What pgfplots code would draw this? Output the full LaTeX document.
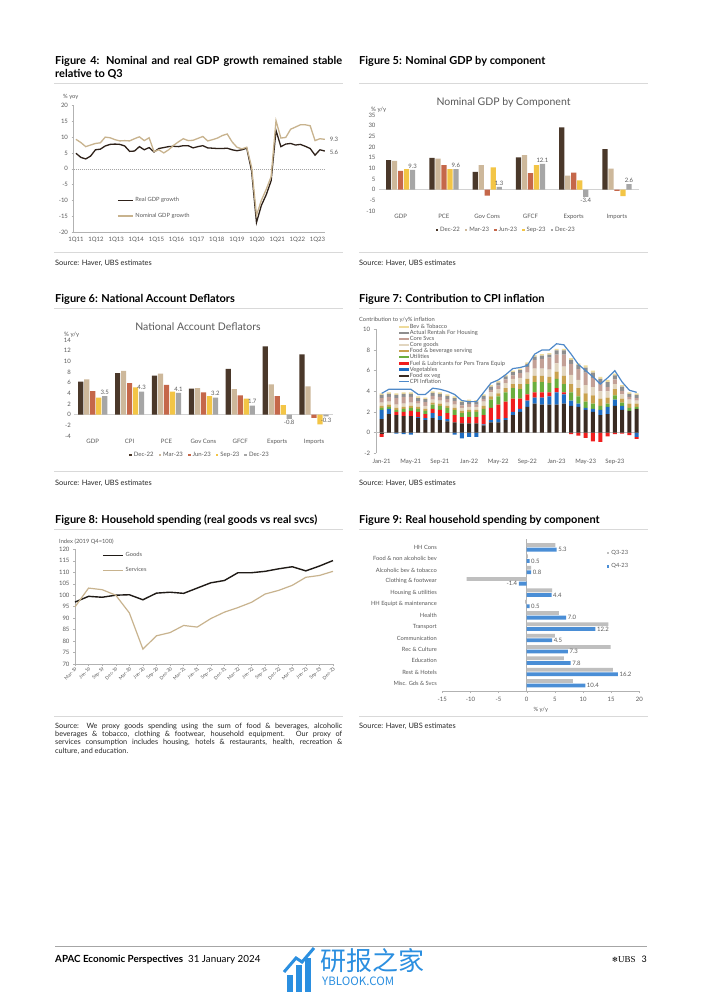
\documentclass[border=0pt]{standalone}
\usepackage{fontspec}
\setmainfont{Lato}
\newfontfamily\cjk{Noto Sans CJK SC}
\newfontfamily\lserif{Liberation Serif}
\newfontfamily\dejavu{DejaVu Sans}
\usepackage{pgfplots}
\usepackage{pgfplotstable}
\pgfplotsset{compat=1.18}

\definecolor{txt}{HTML}{595959}
\definecolor{rulec}{HTML}{D9D9D9}
\definecolor{realc}{HTML}{2E2119}
\definecolor{nomc}{HTML}{C8B38E}
\definecolor{cA}{HTML}{4A382A}
\definecolor{cB}{HTML}{CDB89B}
\definecolor{cC}{HTML}{C5674A}
\definecolor{cD}{HTML}{F3C546}
\definecolor{cE}{HTML}{A6A6A6}
\definecolor{kFood}{HTML}{3A2B22}
\definecolor{kVeg}{HTML}{1F6DC2}
\definecolor{kFuel}{HTML}{F01E1E}
\definecolor{kUtil}{HTML}{6BAE3E}
\definecolor{kServ}{HTML}{C9A24F}
\definecolor{kGoods}{HTML}{E2D6C0}
\definecolor{kSvcs}{HTML}{C3A096}
\definecolor{kRent}{HTML}{8E8E8E}
\definecolor{kBev}{HTML}{EEDB9C}
\definecolor{kCPI}{HTML}{4F89C9}
\definecolor{goodsc}{HTML}{1F1A16}
\definecolor{svcc}{HTML}{C8B38E}
\definecolor{q3c}{HTML}{BFBFBF}
\definecolor{q4c}{HTML}{4A8ED6}
\definecolor{wm}{HTML}{2B8FE0}

\newcommand\afont{\fontsize{6}{7}\selectfont}
\newcommand\lfont{\fontsize{5.75}{6.5}\selectfont}
\newcommand\tfont{\fontsize{11}{13}\selectfont\bfseries}
\newcommand\srcfont{\fontsize{7.4}{8.4}\selectfont}
\newcommand\ctfont{\fontsize{10.5}{12}\selectfont}

\pgfplotsset{
 base/.style={scale only axis, clip=false, anchor=south west,
   /pgf/number format/assume math mode=true,
   tick label style={font=\afont, text=txt},
   every axis label/.append style={font=\afont, text=txt},
   legend style={draw=none, fill=none, font=\afont, text=txt, inner sep=0pt},
   legend cell align=left,
   tick align=outside, major tick length=2pt,
   tick style={gray!60, line width=0.4pt},
   axis line style={gray!60, line width=0.4pt}},
 noaxis/.style={axis line style={draw=none}, major tick length=0pt},
 zeroline/.style={extra y ticks={0}, extra y tick labels={}, extra y tick style={grid=major, major grid style={#1}, major tick length=0pt}},
 fig7/.style={base, at={(375.7pt,-453.3pt)}, width=263.6pt, height=124pt, xmin=-0.82, xmax=35.36, ymin=-2, ymax=10},
 lbl/.style={nodes near coords={\pgfmathprintnumber[fixed,fixed zerofill,precision=1]{\pgfplotspointmeta}},
   every node near coord/.append style={font=\afont, text=txt, inner sep=1.5pt}},
 lineleg/.style={legend image code/.code={\draw[##1] (0pt,0pt) -- (10pt,0pt);}},
}

\pgfplotstableread{
m F V L U S G C R B
0 1.3 0.9 0 0.2 0.2 0.3 0.45 0.3 0.15
1 1.8 0.5 0 0.2 0.2 0.3 0.45 0.3 0.15
2 1.7 0 0.3 0.2 0.2 0.3 0.65 0.3 0.15
3 1.6 0 0.4 0.3 0.2 0.3 0.65 0.3 0.15
4 1.6 0 0.5 0.3 0.2 0.3 0.55 0.3 0.15
5 1.4 0.1 0.5 0.3 0.2 0.3 0.25 0.3 0.15
6 1.2 0.2 0.4 0.3 0.2 0.3 0.35 0.3 0.15
7 1.4 0.5 0.4 0.4 0.2 0.3 0.35 0.3 0.15
8 1.2 0.4 0.6 0.4 0.2 0.3 0.35 0.3 0.15
9 1.1 0.2 0.6 0.5 0.2 0.3 0.35 0.3 0.15
10 1.0 0 0.7 0.5 0.2 0.3 0.35 0.3 0.15
11 0.9 0 0.6 0.4 0.2 0.3 0.25 0.3 0.15
12 0.9 0 0.6 0.5 0.2 0.3 0.25 0.3 0.15
13 0.9 0 0.6 0.5 0.2 0.3 0.2 0.3 0.15
14 0.7 0.1 0.9 0.6 0.3 0.4 0.25 0.3 0.15
15 1.0 0.2 1.2 0.8 0.3 0.4 0.25 0.3 0.15
16 1.0 0.3 1.4 0.8 0.3 0.4 0.35 0.3 0.15
17 1.2 0.2 1.6 0.9 0.4 0.5 0.35 0.3 0.15
18 1.7 0.3 1.3 1.0 0.4 0.5 0.35 0.3 0.15
19 2.0 0.3 1.0 0.9 0.5 0.6 0.45 0.3 0.15
20 2.5 0.6 0.6 1.0 0.5 0.6 0.55 0.3 0.15
21 2.8 0.6 0.5 1.0 0.6 0.7 0.85 0.3 0.15
22 2.7 0.7 0.5 1.0 0.6 0.7 0.95 0.3 0.15
23 2.7 0.8 0.4 0.9 0.6 0.7 1.15 0.3 0.15
24 2.7 1.2 0.4 0.9 0.7 0.8 0.85 0.4 0.15
25 2.8 0.9 0.2 0.8 0.8 0.9 1.15 0.4 0.15
26 2.6 0.5 0 0.8 0.8 0.9 1.05 0.4 0.15
27 2.5 0.3 0 0.7 0.8 0.8 1.05 0.4 0.15
28 2.2 0.2 0 0.6 0.8 0.8 1.2 0.5 0.2
29 2.0 0.3 0 0.5 0.8 0.8 0.9 0.5 0.2
30 1.7 0.5 0 0.4 0.7 0.7 0.7 0.5 0.2
31 1.8 0.7 0 0.3 0.6 0.6 0.4 0.5 0.2
32 2.6 0.6 0 0.4 0.6 0.5 0.45 0.4 0.15
33 2.2 0.4 0 0.3 0.4 0.4 0.35 0.4 0.15
34 2.1 0 0 0.3 0.4 0.4 0.25 0.3 0.15
35 2.3 0 0 0.2 0.3 0.3 0.25 0.3 0.15
}\posdata

\pgfplotstableread{
m F V L
0 -0.1 0 -0.3
1 0 0 0
2 0 -0.1 0
3 0 -0.15 0
4 0 -0.2 0
5 0 0 0
6 0 0 0
7 0 0 0
8 0 0 0
9 0 0 0
10 0 -0.2 0
11 0 -0.55 0
12 0 -0.4 0
13 0 -0.4 0
14 0 0 0
15 0 0 0
16 0 0 0
17 0 0 0
18 0 0 0
19 0 0 0
20 0 0 0
21 0 0 0
22 0 0 0
23 0 0 0
24 0 0 0
25 0 0 0
26 0 0 -0.15
27 0 0 -0.3
28 0 0 -0.5
29 0 0 -0.85
30 0 0 -0.9
31 0 0 -0.35
32 0 0 -0.15
33 0 0 -0.1
34 0 0 -0.25
35 0 -0.4 -0.2
}\negdata

\pgfplotstableread{
m cpi
0 3.8
1 4.2
2 4.2
3 4.2
4 4.2
5 3.7
6 3.7
7 4.3
8 4.2
9 4.0
10 3.7
11 3.1
12 3.0
13 3.0
14 3.9
15 4.8
16 5.1
17 5.6
18 6.2
19 6.3
20 6.5
21 7.6
22 8.0
23 8.0
24 8.6
25 8.5
26 7.6
27 6.6
28 6.0
29 5.4
30 4.7
31 5.3
32 6.0
33 4.9
34 4.1
35 3.9
}\cpidata

\begin{document}
\begin{tikzpicture}
\fill[white] (0pt,0pt) rectangle (702pt,-992pt);

% ---------------- titles, rules, sources ----------------
\node[anchor=base west, inner sep=0pt, font=\tfont] at (55pt,-64.5pt) {\makebox[287pt][s]{Figure 4: Nominal and real GDP growth remained stable}};
\node[anchor=base west, inner sep=0pt, font=\tfont] at (55pt,-77.5pt) {relative to Q3};
\node[anchor=base west, inner sep=0pt, font=\tfont] at (359pt,-64.5pt) {Figure 5: Nominal GDP by component};
\node[anchor=base west, inner sep=0pt, font=\tfont] at (55pt,-302pt) {Figure 6: National Account Deflators};
\node[anchor=base west, inner sep=0pt, font=\tfont] at (359pt,-302pt) {Figure 7: Contribution to CPI inflation};
\node[anchor=base west, inner sep=0pt, font=\tfont] at (55pt,-523pt) {Figure 8: Household spending (real goods vs real svcs)};
\node[anchor=base west, inner sep=0pt, font=\tfont] at (359pt,-523pt) {Figure 9: Real household spending by component};

\foreach \yy in {83.5,252.5,308.3,471.7,529,716.5} {
  \draw[rulec, line width=0.7pt] (54pt,-\yy pt) -- (342.5pt,-\yy pt);
  \draw[rulec, line width=0.7pt] (359pt,-\yy pt) -- (648pt,-\yy pt);
}

\node[anchor=base west, inner sep=0pt, font=\srcfont, text=black!85] at (55pt,-265pt) {Source: Haver, UBS estimates};
\node[anchor=base west, inner sep=0pt, font=\srcfont, text=black!85] at (359pt,-265pt) {Source: Haver, UBS estimates};
\node[anchor=base west, inner sep=0pt, font=\srcfont, text=black!85] at (55pt,-485pt) {Source: Haver, UBS estimates};
\node[anchor=base west, inner sep=0pt, font=\srcfont, text=black!85] at (359pt,-485pt) {Source: Haver, UBS estimates};
\node[anchor=base west, inner sep=0pt, font=\fontsize{7.3}{8.4}\selectfont, text=black!85] at (55pt,-728pt) {\makebox[287pt][s]{Source: We proxy goods spending using the sum of food \& beverages, alcoholic}};
\node[anchor=base west, inner sep=0pt, font=\fontsize{7.3}{8.4}\selectfont, text=black!85] at (55pt,-736.4pt) {\makebox[287pt][s]{beverages \& tobacco, clothing \& footwear, household equipment. Our proxy of}};
\node[anchor=base west, inner sep=0pt, font=\fontsize{7.3}{8.4}\selectfont, text=black!85] at (55pt,-744.8pt) {\makebox[287pt][s]{services consumption includes housing, hotels \& restaurants, health, recreation \&}};
\node[anchor=base west, inner sep=0pt, font=\fontsize{7.3}{8.4}\selectfont, text=black!85] at (55pt,-753.2pt) {culture, and education.};
\node[anchor=base west, inner sep=0pt, font=\srcfont, text=black!85] at (359pt,-728pt) {Source: Haver, UBS estimates};

% small axis captions
\node[anchor=base west, inner sep=0pt, font=\lfont, text=txt] at (63pt,-99pt) {\% yoy};
\node[anchor=base west, inner sep=0pt, font=\afont, text=txt] at (371pt,-112pt) {\% y/y};
\node[anchor=base west, inner sep=0pt, font=\afont, text=txt] at (64pt,-336pt) {\% y/y};
\node[anchor=base west, inner sep=0pt, font=\lfont, text=txt] at (359pt,-321pt) {Contribution to y/y\% inflation};
\node[anchor=base west, inner sep=0pt, font=\lfont, text=txt] at (59pt,-543.5pt) {Index (2019 Q4=100)};
\node[anchor=base, inner sep=0pt, font=\ctfont, text=txt] at (503.5pt,-105.5pt) {Nominal GDP by Component};
\node[anchor=base, inner sep=0pt, font=\ctfont, text=txt] at (198pt,-330pt) {National Account Deflators};

% ---------------- Figure 4 ----------------
\begin{axis}[base, at={(73.5pt,-232pt)}, width=251.3pt, height=126.5pt,
  xmin=-0.5, xmax=51, ymin=-20, ymax=20,
  axis x line*=bottom, axis y line*=left,
  ytick={-20,-15,...,20},
  xtick={0,4.125,8.25,12.375,16.5,20.625,24.75,28.875,33,37.125,41.25,45.375,49.5},
  xticklabels={1Q11,1Q12,1Q13,1Q14,1Q15,1Q16,1Q17,1Q18,1Q19,1Q20,1Q21,1Q22,1Q23},
  x tick style={draw=none},
  zeroline={gray!70, dash pattern=on 0.8pt off 1.2pt, line width=0.5pt},
  legend style={at={(0.173,0.29)}, anchor=north west, row sep=6pt, font=\lfont},
  legend image code/.code={\draw[#1] (0pt,0pt) -- (15pt,0pt);},
]
\addplot[line width=1.3pt, color=realc] coordinates {
(0,4.9)(1,3.6)(2,3.1)(3,4.0)(4,6.0)(5,6.2)(6,7.2)(7,7.7)(8,7.8)(9,7.7)(10,7.2)(11,5.5)
(12,5.6)(13,7.0)(14,6.0)(15,6.7)(16,5.3)(17,6.4)(18,6.7)(19,7.0)(20,7.1)(21,7.0)(22,7.3)(23,7.3)
(24,6.6)(25,7.0)(26,7.3)(27,6.6)(28,6.5)(29,6.4)(30,6.4)(31,6.5)(32,6.0)(33,5.7)(34,6.0)(35,6.5)
(36,-0.7)(37,-17.0)(38,-11.6)(39,-8.2)(40,-3.8)(41,12.1)(42,7.0)(43,7.8)(44,8.0)(45,7.5)(46,7.7)(47,7.1)
(48,6.4)(49,4.3)(50,6.0)(51,5.6)};
\addlegendentry{Real GDP growth}
\addplot[line width=1.3pt, color=nomc] coordinates {
(0,9.3)(1,8.3)(2,7.0)(3,7.5)(4,8.0)(5,8.2)(6,10.0)(7,9.8)(8,9.2)(9,8.8)(10,8.9)(11,8.8)
(12,9.5)(13,10.1)(14,8.9)(15,9.8)(16,5.4)(17,6.0)(18,5.0)(19,6.0)(20,7.4)(21,8.5)(22,9.5)(23,8.9)
(24,9.0)(25,9.6)(26,10.2)(27,8.8)(28,9.2)(29,9.7)(30,10.5)(31,11.0)(32,8.5)(33,6.8)(34,6.3)(35,6.8)
(36,0.5)(37,-14.7)(38,-10.0)(39,-6.5)(40,-2.5)(41,15.2)(42,9.7)(43,9.9)(44,12.5)(45,13.2)(46,13.9)(47,13.9)
(48,13.6)(49,8.9)(50,9.5)(51,9.3)};
\addlegendentry{Nominal GDP growth}
\node[anchor=west, font=\afont, text=txt] at (axis cs:51.3,9.4) {9.3};
\node[anchor=west, font=\afont, text=txt] at (axis cs:51.3,5.3) {5.6};
\end{axis}

% ---------------- Figure 5 ----------------
\begin{axis}[base, noaxis, at={(379pt,-211pt)}, width=259.6pt, height=96pt,
  ybar=0.8pt, bar width=5.2pt, xmin=-0.5, xmax=5.5, ymin=-10, ymax=35,
  ytick={-10,-5,...,35}, xtick={0,...,5},
  xticklabels={GDP,PCE,Gov Cons,GFCF,Exports,Imports},
  zeroline={gray!35, line width=0.6pt},
  legend columns=5,
  legend style={at={(0.49,-0.2)}, anchor=center, /tikz/every even column/.append style={column sep=3pt}},
  legend image code/.code={\fill[#1] (0pt,-1.3pt) rectangle (2.6pt,1.3pt);},
]
\addplot[fill=cA, draw=none] coordinates {(0,13.8)(1,14.9)(2,8.3)(3,15.1)(4,29.2)(5,19.0)};
\addlegendentry{Dec-22}
\addplot[fill=cB, draw=none] coordinates {(0,13.5)(1,14.6)(2,11.5)(3,16.2)(4,6.6)(5,9.9)};
\addlegendentry{Mar-23}
\addplot[fill=cC, draw=none] coordinates {(0,8.8)(1,11.5)(2,-2.8)(3,7.8)(4,8.0)(5,-0.6)};
\addlegendentry{Jun-23}
\addplot[fill=cD, draw=none] coordinates {(0,9.6)(1,9.6)(2,10.4)(3,11.5)(4,4.4)(5,-3.0)};
\addlegendentry{Sep-23}
\addplot[fill=cE, draw=none, lbl] coordinates {(0,9.3)(1,9.6)(2,1.3)(3,12.1)(4,-3.4)(5,2.6)};
\addlegendentry{Dec-23}
\end{axis}

% ---------------- Figure 6 ----------------
\begin{axis}[base, noaxis, at={(74.3pt,-436pt)}, width=258.2pt, height=96pt,
  ybar=0.8pt, bar width=5.2pt, xmin=-0.5, xmax=6.5, ymin=-4, ymax=14,
  ytick={-4,-2,...,14}, xtick={0,...,6},
  xticklabels={GDP,CPI,PCE,Gov Cons,GFCF,Exports,Imports},
  zeroline={gray!35, line width=0.6pt},
  legend columns=5,
  legend style={at={(0.487,-0.198)}, anchor=center, /tikz/every even column/.append style={column sep=3pt}},
  legend image code/.code={\fill[#1] (0pt,-1.3pt) rectangle (2.6pt,1.3pt);},
]
\addplot[fill=cA, draw=none] coordinates {(0,6.2)(1,7.8)(2,7.3)(3,4.9)(4,8.6)(5,12.8)(6,11.3)};
\addlegendentry{Dec-22}
\addplot[fill=cB, draw=none] coordinates {(0,6.6)(1,8.2)(2,7.7)(3,5.0)(4,4.8)(5,5.7)(6,5.3)};
\addlegendentry{Mar-23}
\addplot[fill=cC, draw=none] coordinates {(0,4.4)(1,5.9)(2,5.6)(3,4.2)(4,3.6)(5,3.5)(6,-0.6)};
\addlegendentry{Jun-23}
\addplot[fill=cD, draw=none] coordinates {(0,3.2)(1,5.1)(2,4.3)(3,3.5)(4,3.0)(5,1.8)(6,-1.8)};
\addlegendentry{Sep-23}
\addplot[fill=cE, draw=none, lbl] coordinates {(0,3.5)(1,4.3)(2,4.1)(3,3.2)(4,1.7)(5,-0.8)(6,-0.3)};
\addlegendentry{Dec-23}
\end{axis}

% ---------------- Figure 7 ----------------
\begin{axis}[fig7, ybar stacked, bar width=4pt,
  axis y line*=left, axis x line*=bottom,
  x axis line style={draw=none}, x tick style={draw=none},
  ytick={-2,0,...,10}, xtick={0,4,...,32},
  xticklabels={Jan-21,May-21,Sep-21,Jan-22,May-22,Sep-22,Jan-23,May-23,Sep-23},
  zeroline={gray!50, line width=0.5pt},
]
\addplot[fill=kFood, draw=none] table[x=m,y=F]{\negdata};
\addplot[fill=kVeg, draw=none] table[x=m,y=V]{\negdata};
\addplot[fill=kFuel, draw=none] table[x=m,y=L]{\negdata};
\end{axis}
\begin{axis}[fig7, hide axis, ybar stacked, bar width=4pt]
\addplot[fill=kFood, draw=none] table[x=m,y=F]{\posdata};
\addplot[fill=kVeg, draw=none] table[x=m,y=V]{\posdata};
\addplot[fill=kFuel, draw=none] table[x=m,y=L]{\posdata};
\addplot[fill=kUtil, draw=none] table[x=m,y=U]{\posdata};
\addplot[fill=kServ, draw=none] table[x=m,y=S]{\posdata};
\addplot[fill=kGoods, draw=none] table[x=m,y=G]{\posdata};
\addplot[fill=kSvcs, draw=none] table[x=m,y=C]{\posdata};
\addplot[fill=kRent, draw=none] table[x=m,y=R]{\posdata};
\addplot[fill=kBev, draw=none] table[x=m,y=B]{\posdata};
\end{axis}
\begin{axis}[fig7, hide axis,
  legend style={at={(0.085,1.045)}, anchor=north west, font=\lfont, row sep=0.2pt,
     nodes={inner sep=0.3pt, text height=4.2pt, text depth=1.1pt}},
  legend image code/.code={\fill[#1] (0pt,-1.1pt) rectangle (10pt,1.1pt);},
]
\addlegendimage{fill=kBev, draw=none}\addlegendentry{Bev \& Tobacco}
\addlegendimage{fill=kRent, draw=none}\addlegendentry{Actual Rentals For Housing}
\addlegendimage{fill=kSvcs, draw=none}\addlegendentry{Core Svcs}
\addlegendimage{fill=kGoods, draw=none}\addlegendentry{Core goods}
\addlegendimage{fill=kServ, draw=none}\addlegendentry{Food \& beverage serving}
\addlegendimage{fill=kUtil, draw=none}\addlegendentry{Utilities}
\addlegendimage{fill=kFuel, draw=none}\addlegendentry{Fuel \& Lubricants for Pers Trans Equip}
\addlegendimage{fill=kVeg, draw=none}\addlegendentry{Vegetables}
\addlegendimage{fill=kFood, draw=none}\addlegendentry{Food ex veg}
\addplot[color=kCPI, line width=1.2pt, lineleg] table[x=m,y=cpi]{\cpidata};
\addlegendentry{CPI Inflation}
\end{axis}

% ---------------- Figure 8 ----------------
\begin{axis}[base, at={(75pt,-664pt)}, width=258pt, height=114.7pt,
  xmin=0, xmax=19, ymin=70, ymax=120,
  axis x line*=bottom, axis y line*=left,
  ytick={70,75,...,120}, xtick={0,...,19},
  xticklabels={Mar-19,Jun-19,Sep-19,Dec-19,Mar-20,Jun-20,Sep-20,Dec-20,Mar-21,Jun-21,Sep-21,Dec-21,Mar-22,Jun-22,Sep-22,Dec-22,Mar-23,Jun-23,Sep-23,Dec-23},
  xticklabel style={rotate=45, anchor=north east, inner sep=0.3pt, font=\fontsize{4.7}{5}\selectfont},
  legend style={at={(0.105,0.99)}, anchor=north west, row sep=5pt, font=\lfont},
  legend image code/.code={\draw[#1] (0pt,0pt) -- (20pt,0pt);},
]
\addplot[line width=1.4pt, color=goodsc] coordinates {
(0,97.0)(1,99.5)(2,99.1)(3,100.0)(4,100.2)(5,98.0)(6,100.9)(7,101.3)(8,100.8)(9,103.1)
(10,105.4)(11,106.4)(12,109.8)(13,109.8)(14,110.4)(15,111.5)(16,112.4)(17,110.6)(18,112.7)(19,115.1)};
\addlegendentry{Goods}
\addplot[line width=1.2pt, color=svcc] coordinates {
(0,94.9)(1,103.1)(2,102.4)(3,100.0)(4,92.3)(5,76.5)(6,82.3)(7,83.7)(8,86.8)(9,86.1)
(10,89.8)(11,92.6)(12,94.6)(13,96.9)(14,100.5)(15,102.1)(16,104.3)(17,107.8)(18,108.6)(19,110.4)};
\addlegendentry{Services}
\end{axis}

% ---------------- Figure 9 ----------------
\begin{axis}[base, at={(442.3pt,-691.2pt)}, width=197pt, height=151.8pt,
  xbar, bar width=3.8pt,
  xmin=-15, xmax=20, ymin=-0.7, ymax=12.7, y dir=reverse,
  axis x line*=bottom, axis y line*=left,
  y axis line style={draw=none}, y tick style={draw=none},
  ytick={0,...,12},
  yticklabels={HH Cons,Food \& non alcoholic bev,Alcoholic bev \& tobacco,Clothing \& footwear,Housing \& utilities,HH Equipt \& maintenance,Health,Transport,Communication,Rec \& Culture,Education,Rest \& Hotels,Misc. Gds \& Svcs},
  yticklabel style={font=\lfont},
  xtick={-15,-10,...,20},
  extra x ticks={0}, extra x tick labels={},
  extra x tick style={grid=major, major grid style={gray!60, line width=0.5pt}, major tick length=0pt},
  xlabel={\% y/y}, xlabel style={font=\lfont, yshift=3pt},
  legend style={at={(0.835,0.945)}, anchor=north west, row sep=4pt, font=\lfont},
  legend image code/.code={\fill[#1] (0pt,-1.2pt) rectangle (2.4pt,1.2pt);},
]
\addplot[fill=q3c, draw=none, bar shift=2.3pt] coordinates {(5.1,0)(0.2,1)(0.8,2)(-10.7,3)(4.5,4)(-0.3,5)(5.7,6)(14.5,7)(5.0,8)(14.9,9)(6.6,10)(15.3,11)(8.2,12)};
\addlegendentry{Q3-23}
\addplot[fill=q4c, draw=none, bar shift=-2.3pt, point meta=x, lbl] coordinates {(5.3,0)(0.5,1)(0.8,2)(-1.4,3)(4.4,4)(0.5,5)(7.0,6)(12.2,7)(4.5,8)(7.3,9)(7.8,10)(16.2,11)(10.4,12)};
\addlegendentry{Q4-23}
\end{axis}

% ---------------- footer ----------------
\draw[gray!70, line width=0.7pt] (55pt,-946pt) -- (647pt,-946pt);
\node[anchor=base west, inner sep=0pt, font=\fontsize{9.8}{11}\selectfont] at (55pt,-962pt) {\textbf{APAC Economic Perspectives}\hspace{5pt}31 January 2024};
\node[anchor=base east, inner sep=0pt, font=\fontsize{9}{10}\selectfont] at (647pt,-962pt) {{\dejavu\fontsize{7.5}{8}\selectfont ❄}{\lserif UBS}\hspace{6pt}3};
% watermark
\fill[wm] (287pt,-992pt) rectangle (293pt,-975pt);
\fill[wm] (296pt,-992pt) rectangle (302pt,-965pt);
\fill[wm] (305pt,-992pt) rectangle (311pt,-958pt);
\draw[wm, line width=3pt] (284pt,-972pt) -- (296pt,-958pt) -- (302pt,-962pt) -- (314pt,-948pt);
\node[anchor=base west, inner sep=0pt, text=wm, font=\cjk\fontsize{26}{28}\selectfont] at (320pt,-970pt) {研报之家};
\node[anchor=base west, inner sep=0pt, text=wm, font=\cjk\fontsize{11.5}{12}\selectfont] at (322pt,-985pt) {YBLOOK.COM};
\end{tikzpicture}
\end{document}
